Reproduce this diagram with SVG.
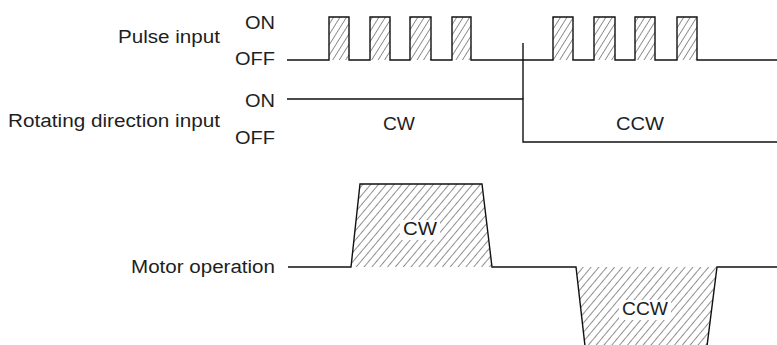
<svg xmlns="http://www.w3.org/2000/svg" width="777" height="345" viewBox="0 0 777 345">
<style>
.t{font-family:"Liberation Sans",Arial,sans-serif;font-size:18px;fill:#1e1e1e}
.ln{fill:none;stroke:#111;stroke-width:1.4}
.bg{fill:#fff;stroke:none}
</style>
<defs>
<pattern id="hatchP" width="5.5" height="5.5" patternUnits="userSpaceOnUse" patternTransform="rotate(32)">
<line x1="0" y1="0" x2="0" y2="5.5" stroke="#222" stroke-width="1"/>
</pattern>
<pattern id="hatchM" width="6" height="6" patternUnits="userSpaceOnUse" patternTransform="rotate(40)">
<line x1="0" y1="0" x2="0" y2="6" stroke="#222" stroke-width="1"/>
</pattern>
</defs>
<rect width="777" height="345" fill="#fff"/>

<g id="labels">
<text class="t" x="118" y="43" textLength="102" lengthAdjust="spacingAndGlyphs">Pulse input</text>
<text class="t" x="245" y="29" textLength="30" lengthAdjust="spacingAndGlyphs">ON</text>
<text class="t" x="235" y="65" textLength="40" lengthAdjust="spacingAndGlyphs">OFF</text>
<text class="t" x="8" y="127" textLength="212" lengthAdjust="spacingAndGlyphs">Rotating direction input</text>
<text class="t" x="245" y="107" textLength="30" lengthAdjust="spacingAndGlyphs">ON</text>
<text class="t" x="235" y="144" textLength="40" lengthAdjust="spacingAndGlyphs">OFF</text>
<text class="t" x="131" y="273" textLength="144" lengthAdjust="spacingAndGlyphs">Motor operation</text>
</g>

<g id="pulse-signal">
<g fill="url(#hatchP)">
<rect x="329" y="17" width="20" height="43"/>
<rect x="370" y="17" width="20" height="43"/>
<rect x="410" y="17" width="21" height="43"/>
<rect x="452" y="17" width="19" height="43"/>
<rect x="553" y="17" width="20" height="43"/>
<rect x="594" y="17" width="21" height="43"/>
<rect x="635" y="17" width="20" height="43"/>
<rect x="677" y="17" width="20" height="43"/>
</g>
<path class="ln" d="M287,60 H329 V17 H349 V60 H370 V17 H390 V60 H410 V17 H431 V60 H452 V17 H471 V60 H553 V17 H573 V60 H594 V17 H615 V60 H635 V17 H655 V60 H677 V17 H697 V60 H777"/>
</g>

<g id="direction-signal">
<path class="ln" d="M287,99 H523 V142 H777"/>
<text class="t" x="383" y="130" textLength="32" lengthAdjust="spacingAndGlyphs">CW</text>
<text class="t" x="616" y="130" textLength="48" lengthAdjust="spacingAndGlyphs">CCW</text>
</g>

<g id="connectors">
<path class="ln" d="M523,43 V99"/>
</g>

<g id="motor-signal">
<polygon fill="url(#hatchM)" points="351,267 360,184 482,184 492,267"/>
<polygon fill="url(#hatchM)" points="576,267 717,267 707,346 585,346"/>
<path class="ln" d="M288,267 H351 L360,184 H482 L492,267 H576 L585,346 M707,346 L717,267 H777"/>
<rect class="bg" x="400" y="220" width="40" height="20"/>
<text class="t" x="403" y="235" textLength="34" lengthAdjust="spacingAndGlyphs">CW</text>
<rect class="bg" x="619" y="300" width="52" height="20"/>
<text class="t" x="622" y="315" textLength="46" lengthAdjust="spacingAndGlyphs">CCW</text>
</g>
</svg>
